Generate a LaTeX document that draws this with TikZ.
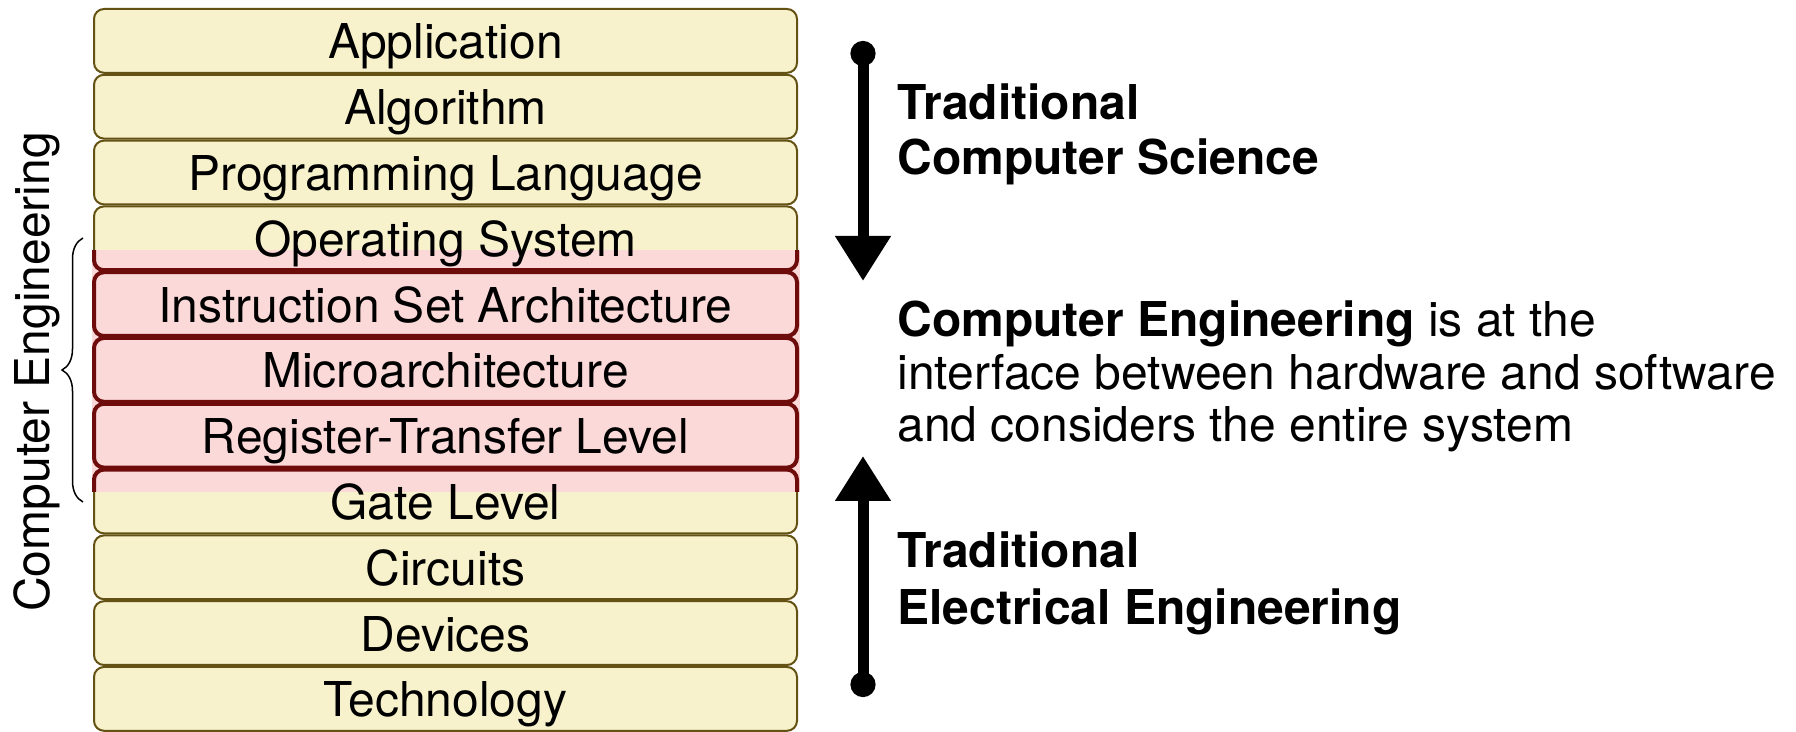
\documentclass[tikz,border=0pt]{standalone}
\usepackage{fontspec}
\setmainfont{TeX Gyre Heros}
\usetikzlibrary{arrows.meta,decorations.pathreplacing}

\definecolor{layerfill}{RGB}{247,242,204}
\definecolor{layerline}{RGB}{100,82,20}
\definecolor{cefill}{RGB}{252,217,217}
\definecolor{celine}{RGB}{110,12,12}

\tikzset{
  layerbox/.style={draw=layerline, fill=layerfill, line width=1pt, rounded corners=5pt,
    minimum width=351.5pt, minimum height=31.9pt, inner sep=0pt, outer sep=0pt},
  ceoutline/.style={draw=celine, fill=cefill, line width=2pt, rounded corners=5pt},
  layerlabel/.style={font=\fontsize{24}{28}\selectfont, text height=18pt, text depth=0pt, inner sep=0pt},
  sidetext/.style={font=\fontsize{24}{28}\selectfont, anchor=base west, inner sep=0pt},
  flow/.style={line width=5.5pt, {Circle[length=12.5pt]}-{Triangle[width=26.5pt,length=22.5pt]}},
}

\begin{document}
\begin{tikzpicture}[x=0.5pt,y=-0.5pt]
\useasboundingbox (0,0) rectangle (1796,732);

% the stack of abstraction layers
\foreach \name/\i in {app/0,alg/1,pl/2,os/3,isa/4,uarch/5,rtl/6,gate/7,circ/8,dev/9,tech/10}
  \node[layerbox] (\name) at (445.5,{40.9+65.8*\i}) {};

% computer engineering band across the middle of the stack
\begin{scope}
  \clip (92,251) rectangle (800,492);
  \fill[cefill] (92,251) rectangle (800,492);
  \foreach \name in {os,isa,uarch,rtl,gate}
    \draw[ceoutline] (\name.south west) rectangle (\name.north east);
\end{scope}

% layer names
\foreach \name/\txt in {app/Application,alg/Algorithm,pl/Programming Language,
    os/Operating System,isa/Instruction Set Architecture,uarch/Microarchitecture,
    rtl/Register-Transfer Level,gate/Gate Level,circ/Circuits,dev/Devices,tech/Technology}
  \node[layerlabel] (\name-t) at (\name.center) {\txt};

% brace and side label
\coordinate (brBot) at (83,502);
\coordinate (brTop) at (83,238);
\draw[line width=0.75pt, decorate, decoration={brace, amplitude=10.5pt}] (brBot) -- (brTop);
\node[sidetext, rotate=90, anchor=base] (ceSide) at (49,372) {Computer Engineering};

% top-down and bottom-up arrows
\coordinate (csStart) at (863,41);
\coordinate (csEnd) at (863,281);
\draw[flow] (csStart) -- (csEnd);
\coordinate (eeStart) at (863,697);
\coordinate (eeEnd) at (863,456);
\draw[flow] (eeStart) -- (eeEnd);

% explanatory text
\node[sidetext] (cs1) at (897,120) {\bfseries Traditional};
\node[sidetext] (cs2) at (897,175) {\bfseries Computer Science};
\node[sidetext] (ce1) at (897,337) {\textbf{Computer Engineering} is at the};
\node[sidetext] (ce2) at (897,390) {interface between hardware and software};
\node[sidetext] (ce3) at (897,442) {and considers the entire system};
\node[sidetext] (ee1) at (897,568) {\bfseries Traditional};
\node[sidetext] (ee2) at (897,625) {\bfseries Electrical Engineering};
\end{tikzpicture}
\end{document}
